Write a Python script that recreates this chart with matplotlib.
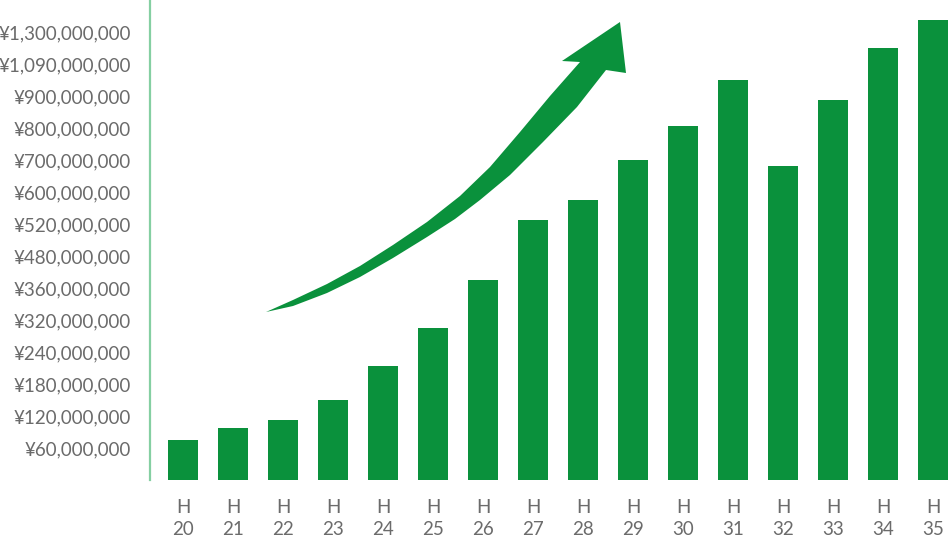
import numpy as np
import matplotlib
matplotlib.use("Agg")
import matplotlib.pyplot as plt
from matplotlib.patches import Polygon

# fiscal years (Heisei)
years = ["20", "21", "22", "23", "24", "25", "26", "27",
         "28", "29", "30", "31", "32", "33", "34", "35"]
# amounts in yen
amounts = [75e6, 97e6, 112e6, 150e6, 214e6, 300e6, 390e6, 530e6,
           580e6, 700e6, 806e6, 995e6, 680e6, 887e6, 1195e6, 1380e6]

# the axis labels are evenly spaced but not linear in value
tick_values = [60e6, 120e6, 180e6, 240e6, 320e6, 360e6, 480e6, 520e6,
               600e6, 700e6, 800e6, 900e6, 1090e6, 1300e6]

GREEN = "#0a913c"
GRAY = "#6b6b6b"

scale_vals = np.array([0] + tick_values + [1510e6])
scale_idx = np.arange(len(scale_vals), dtype=float)


def forward(v):
    return np.interp(v, scale_vals, scale_idx)


def inverse(i):
    return np.interp(i, scale_idx, scale_vals)


W, H = 948, 542
fig = plt.figure(figsize=(W / 100, H / 100), dpi=100)
ax = fig.add_axes([150 / W, (H - 480) / H, 798 / W, 480 / H])

x = np.arange(len(years))
ax.bar(x, amounts, width=0.6, color=GREEN)

ax.set_yscale("function", functions=(forward, inverse))
ax.set_ylim(0, 1510e6)
ax.set_xlim(-0.66, 15.3)

ax.set_yticks(tick_values)
ax.set_yticklabels(["¥{:,.0f}".format(v) for v in tick_values])
ax.set_xticks(x)
ax.set_xticklabels(["H\n" + y for y in years], linespacing=1.3)
ax.yaxis.set_minor_locator(matplotlib.ticker.NullLocator())

ax.tick_params(axis="y", length=0, pad=13.5, labelsize=13.5, labelcolor=GRAY)
ax.tick_params(axis="x", length=0, pad=14, labelsize=13.5, labelcolor=GRAY)
for lab in ax.get_xticklabels() + ax.get_yticklabels():
    lab.set_fontfamily("Lato")
for lab in ax.get_yticklabels():
    lab.set_y(lab.get_position()[1])
    lab.set_va("center_baseline")

for s in ["top", "right", "bottom"]:
    ax.spines[s].set_visible(False)
ax.spines["left"].set_color("#85cfa2")
ax.spines["left"].set_linewidth(1.6)

# decorative rising arrow, outline traced in pixel coords
upper = [(266, 312), (293, 300), (327, 284), (360, 266), (393, 245),
         (427, 222), (460, 196), (490, 167), (520, 132), (550, 96),
         (580, 62)]
head = [(562, 61), (620, 22), (626, 73), (606, 70)]
lower = [(577, 107), (543, 142), (510, 175), (480, 200), (455, 219),
         (427, 237), (393, 258), (360, 277), (327, 293), (293, 306),
         (266, 312)]
pts = [(px / W, 1 - py / H) for px, py in upper + head + lower]
fig.patches.append(Polygon(pts, closed=True, transform=fig.transFigure,
                           facecolor=GREEN, edgecolor="none"))

fig.savefig("out.png", dpi=100)
